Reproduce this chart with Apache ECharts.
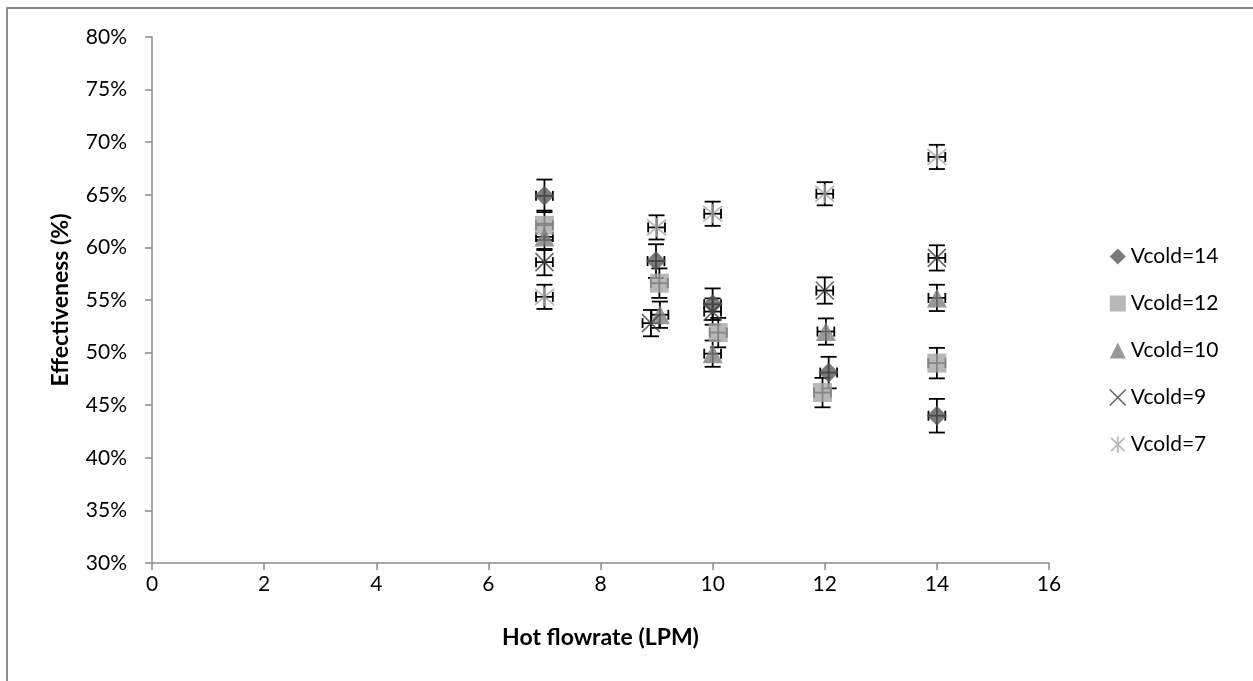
<!DOCTYPE html>
<html>
<head>
<meta charset="utf-8">
<script src="https://cdn.jsdelivr.net/npm/echarts@6/dist/echarts.min.js"></script>
<style>
  html, body { margin: 0; padding: 0; background: #fff; }
  #chart { width: 1253px; height: 681px; }
</style>
</head>
<body>
<div id="chart"></div>
<script>
// Effectiveness vs hot flowrate, one series per cold-side velocity
const seriesNames = ['Vcold=14', 'Vcold=12', 'Vcold=10', 'Vcold=9', 'Vcold=7'];

const flow14 = [7, 8.99, 10, 12.07, 14];
const eff14  = [64.9, 58.7, 54.6, 48.1, 44.0];
const err14  = [1.55, 1.6, 1.5, 1.5, 1.6];

const flow12 = [7, 9.05, 10.1, 11.96, 14];
const eff12  = [62.1, 56.6, 51.9, 46.2, 49.0];
const err12  = [1.4, 1.4, 1.4, 1.4, 1.45];

const flow10 = [7, 9.06, 10, 12.02, 14];
const eff10  = [61.0, 53.6, 49.9, 52.0, 55.2];
const err10  = [1.25, 1.25, 1.25, 1.25, 1.25];

const flow9 = [7, 8.9, 10, 12, 14];
const eff9  = [58.6, 52.8, 53.9, 55.9, 59.0];
const err9  = [1.25, 1.25, 1.25, 1.25, 1.2];

const flow7 = [7, 9, 10, 12, 14];
const eff7  = [55.3, 61.9, 63.2, 65.1, 68.6];
const err7  = [1.15, 1.15, 1.15, 1.1, 1.15];

// horizontal (flowrate) uncertainty, LPM
const flowErr = 0.15;

const xTicks = { min: 0, max: 16, step: 2 };
const yTicks = { min: 30, max: 80, step: 5 };

const FONT = 'Lato, "Open Sans", sans-serif';

const markers = [
  { symbol: 'diamond', size: 20, itemStyle: { color: '#595959' } },
  { symbol: 'rect', size: 19, itemStyle: { color: '#a6a6a6' } },
  { symbol: 'triangle', size: [20, 19], itemStyle: { color: '#7f7f7f' } },
  { symbol: 'path://M0,0L10,10M10,0L0,10', size: 18,
    itemStyle: { color: 'rgba(0,0,0,0)', borderColor: '#404040', borderWidth: 1.6 } },
  { symbol: 'path://M0,0L10,10M10,0L0,10M5,-1L5,11', size: 19,
    itemStyle: { color: 'rgba(0,0,0,0)', borderColor: '#a6a6a6', borderWidth: 1.8 } }
];

const groups = [
  [flow14, eff14, err14],
  [flow12, eff12, err12],
  [flow10, eff10, err10],
  [flow9, eff9, err9],
  [flow7, eff7, err7]
];

function renderErrorBars(params, api) {
  const x = api.value(0), y = api.value(1), e = api.value(2), ex = api.value(3);
  const top = api.coord([x, y + e]);
  const bot = api.coord([x, y - e]);
  const lft = api.coord([x - ex, y]);
  const rgt = api.coord([x + ex, y]);
  const cw = 8, ch = 5;
  const style = { stroke: '#000', lineWidth: 1.8 };
  const seg = (x1, y1, x2, y2) => ({ type: 'line', shape: { x1, y1, x2, y2 }, style });
  return {
    type: 'group',
    children: [
      seg(top[0], top[1], bot[0], bot[1]),
      seg(top[0] - cw, top[1], top[0] + cw, top[1]),
      seg(bot[0] - cw, bot[1], bot[0] + cw, bot[1]),
      seg(lft[0], lft[1], rgt[0], rgt[1]),
      seg(lft[0], lft[1] - ch, lft[0], lft[1] + ch),
      seg(rgt[0], rgt[1] - ch, rgt[0], rgt[1] + ch)
    ]
  };
}

// error bars sit underneath every marker; markers stack in series order
const series = [];
groups.forEach(([fx, fy, fe], i) => {
  series.push({
    type: 'custom',
    name: 'bars-' + i,
    renderItem: renderErrorBars,
    encode: { x: 0, y: 1 },
    data: fx.map((v, k) => [v, fy[k], fe[k], flowErr]),
    silent: true,
    z: 1
  });
});
groups.forEach(([fx, fy], i) => {
  series.push({
    type: 'scatter',
    name: seriesNames[i],
    symbol: markers[i].symbol,
    symbolSize: markers[i].size,
    itemStyle: markers[i].itemStyle,
    data: fx.map((v, k) => [v, fy[k]]),
    z: 3 + i
  });
});

const chart = echarts.init(document.getElementById('chart'), null, { renderer: 'canvas' });
chart.setOption({
  animation: false,
  backgroundColor: '#fff',
  graphic: [{
    type: 'rect',
    shape: { x: 7, y: 8, width: 1400, height: 1000 },
    style: { fill: 'none', stroke: '#8c8c8c', lineWidth: 2 },
    silent: true,
    z: 0
  }],
  grid: { left: 152, right: 204, top: 37, bottom: 118 },
  xAxis: {
    type: 'value',
    min: xTicks.min, max: xTicks.max, interval: xTicks.step,
    name: 'Hot flowrate (LPM)',
    nameLocation: 'middle',
    nameGap: 63,
    nameTextStyle: { fontFamily: FONT, fontSize: 23, fontWeight: 'bold', color: '#000' },
    axisLine: { show: true, lineStyle: { color: '#8c8c8c', width: 1.5 } },
    axisTick: { show: true, length: 7, lineStyle: { color: '#8c8c8c', width: 1.5 } },
    axisLabel: { fontFamily: FONT, fontSize: 21, color: '#000', margin: 11 },
    splitLine: { show: false }
  },
  yAxis: {
    type: 'value',
    min: yTicks.min, max: yTicks.max, interval: yTicks.step,
    name: 'Effectiveness (%)',
    nameLocation: 'middle',
    nameGap: 80,
    nameRotate: 90,
    nameTextStyle: { fontFamily: FONT, fontSize: 23, fontWeight: 'bold', color: '#000' },
    axisLine: { show: true, lineStyle: { color: '#8c8c8c', width: 1.5 } },
    axisTick: { show: true, length: 7, lineStyle: { color: '#8c8c8c', width: 1.5 } },
    axisLabel: { fontFamily: FONT, fontSize: 21, color: '#000', margin: 25, formatter: '{value}%' },
    splitLine: { show: false }
  },
  legend: {
    orient: 'vertical',
    left: 1104,
    top: 241,
    itemGap: 26,
    itemWidth: 16,
    itemHeight: 16,
    textStyle: { fontFamily: FONT, fontSize: 21, color: '#000' },
    data: seriesNames.map((n, i) => ({
      name: n,
      icon: markers[i].symbol,
      itemStyle: markers[i].itemStyle
    }))
  },
  series
});
</script>
</body>
</html>
